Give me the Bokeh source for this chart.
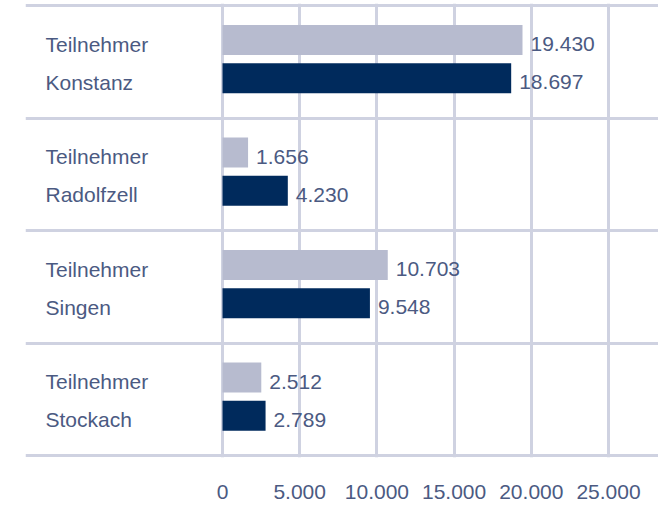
from bokeh.plotting import figure
from bokeh.models import Range1d, FixedTicker, ColumnDataSource, Grid
from bokeh.core.properties import value
from bokeh.embed import file_html
from bokeh.resources import INLINE

# ---- data ----
cities = ["Konstanz", "Radolfzell", "Singen", "Stockach"]
series_label = "Teilnehmer"
teilnehmer = [19430, 1656, 10703, 2512]
city_values = [18697, 4230, 9548, 2789]
x_ticks = [0, 5000, 10000, 15000, 20000, 25000]


def de(n):
    return f"{n:,}".replace(",", ".")


FONT = "Liberation Sans"
TEXT = "#4b5a82"
GRID = "#cfd2e1"
LIGHT = "#b7bbcf"
DARK = "#002a5c"
FS = "21px"

X0, X1 = -12759, 28238
PAD = 2 / 112.5
p = figure(frame_width=633, frame_height=454,
           x_range=Range1d(X0, X1), y_range=Range1d(4 + PAD, -PAD),
           output_backend="svg", toolbar_location=None,
           y_axis_location=None,
           min_border_left=25, min_border_right=0, min_border_top=3,
           min_border_bottom=51)
p.outline_line_color = None
p.background_fill_color = "white"
p.border_fill_color = "white"

idx = list(range(len(cities)))
LIGHT_Y, DARK_Y, BAR_H = 0.307, 0.646, 0.267

light_src = ColumnDataSource(dict(
    y=[i + LIGHT_Y for i in idx], right=teilnehmer,
    label=[de(v) for v in teilnehmer], name=[series_label] * len(idx),
    x0=[X0] * len(idx)))
dark_src = ColumnDataSource(dict(
    y=[i + DARK_Y for i in idx], right=city_values,
    label=[de(v) for v in city_values], name=cities,
    x0=[X0] * len(idx)))

p.hbar(y="y", left=0, right="right", height=BAR_H, source=light_src,
       fill_color=LIGHT, line_color=None)
p.hbar(y="y", left=0, right="right", height=BAR_H, source=dark_src,
       fill_color=DARK, line_color=None)

for src in (light_src, dark_src):
    p.text(x="right", y="y", text="label", source=src, x_offset=8, y_offset=4,
           text_align="left", text_baseline="middle",
           text_font=value(FONT), text_font_size=FS, text_color=TEXT)
    p.text(x="x0", y="y", text="name", source=src, x_offset=20, y_offset=4,
           text_align="left", text_baseline="middle",
           text_font=value(FONT), text_font_size=FS, text_color=TEXT)

# axis
ax = p.xaxis[0]
ax.ticker = FixedTicker(ticks=x_ticks)
ax.major_label_overrides = {t: de(t) for t in x_ticks}
ax.major_label_text_font = FONT
ax.major_label_text_font_size = FS
ax.major_label_text_color = TEXT
ax.major_label_standoff = 27
ax.major_tick_in = 0
ax.major_tick_out = 0
ax.minor_tick_line_color = None
ax.axis_line_color = None

p.xgrid.grid_line_color = GRID
p.xgrid.grid_line_width = 3
for g in p.ygrid:
    g.visible = False
p.add_layout(Grid(dimension=1, ticker=FixedTicker(ticks=list(range(len(cities) + 1))),
                  grid_line_color=GRID, grid_line_width=3))

open("out.html", "w").write(file_html(p, INLINE))
